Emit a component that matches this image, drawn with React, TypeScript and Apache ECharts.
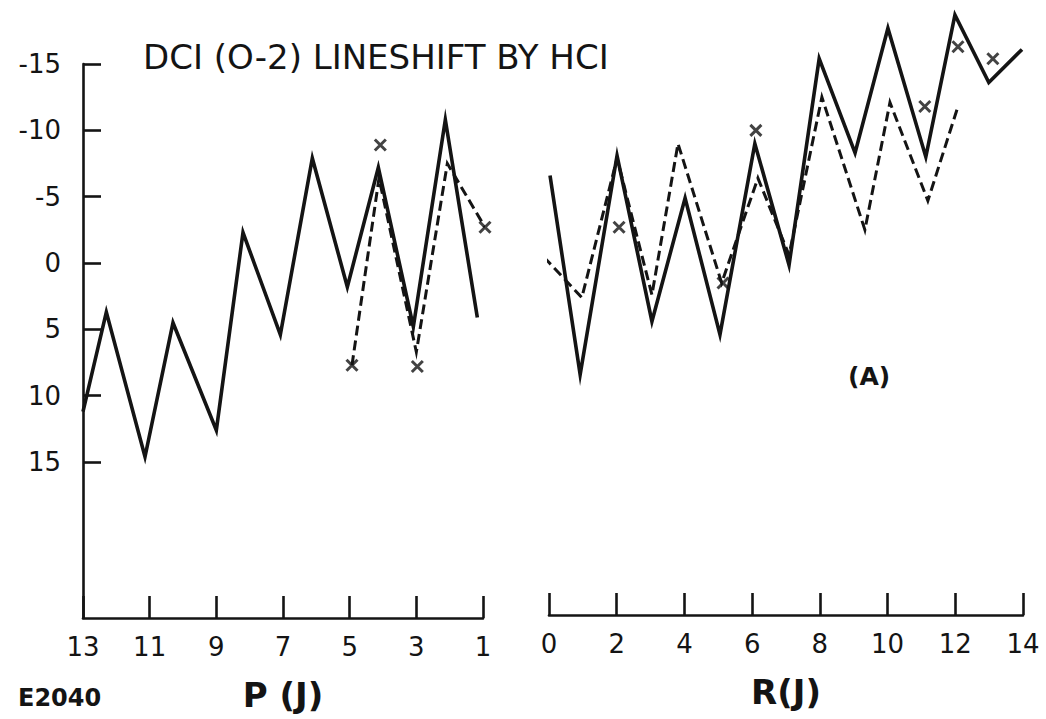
import React, { useEffect, useRef } from "react";
import * as echarts from "echarts";

// Tick labels
const shiftTicks = [-15, -10, -5, 0, 5, 10, 15];
const pTicks = [1, 3, 5, 7, 9, 11, 13];
const rTicks = [0, 2, 4, 6, 8, 10, 12, 14];

// P branch, solid curve (J, shift)
const pSolidJ = [13, 12.3, 11.14, 10.3, 9.0, 8.2, 7.08, 6.12, 5.07, 4.14, 3.09, 2.13, 1.17];
const pSolidShift = [11.2, 3.7, 14.6, 4.5, 12.6, -2.3, 5.4, -7.9, 1.8, -7.2, 4.8, -10.8, 4.1];

// P branch, dashed curve
const pDashedJ = [4.93, 4.12, 3.0, 2.07, 0.94];
const pDashedShift = [7.7, -6.4, 6.7, -7.5, -2.7];

// P branch, x marks
const pMarkJ = [4.93, 4.08, 2.97, 0.94];
const pMarkShift = [7.7, -8.9, 7.8, -2.7];

// R branch, solid curve
const rSolidJ = [0.03, 0.92, 2.01, 3.04, 4.02, 5.05, 6.08, 7.09, 7.98, 9.04, 10.01, 11.13, 11.99, 12.99, 13.97];
const rSolidShift = [-6.6, 8.4, -8.1, 4.4, -4.9, 5.4, -9.0, 0.15, -15.4, -8.3, -17.7, -8.0, -18.7, -13.6, -16.1];

// R branch, dashed curve
const rDashedJ = [-0.15, 0.97, 2.01, 3.04, 3.81, 5.1, 6.17, 7.09, 8.06, 9.33, 10.07, 11.19, 12.08];
const rDashedShift = [-0.45, 2.6, -7.9, 2.4, -9.0, 1.5, -6.4, -0.6, -12.5, -2.5, -12.1, -4.7, -11.8];

// R branch, x marks
const rMarkJ = [2.07, 5.14, 6.11, 11.1, 12.08, 13.11];
const rMarkShift = [-2.7, 1.5, -10.0, -11.8, -16.3, -15.4];

const zip = (a: number[], b: number[]) => a.map((v, i) => [v, b[i]]);

const INK = "#141414";
const FONT = "DejaVu Sans";
const X_MARK = "path://M0,0L10,10M10,0L0,10";

export default function App() {
  const ref = useRef<HTMLDivElement>(null);

  useEffect(() => {
    if (!ref.current) return;
    const chart = echarts.init(ref.current, undefined, { renderer: "svg" });

    const solid = { color: INK, width: 3.6, join: "miter", miterLimit: 20 };
    const dashed = { color: INK, width: 3, type: [10, 5], join: "miter", miterLimit: 20 };

    const xAxisCommon = {
      type: "value",
      axisLine: { show: true, onZero: false, lineStyle: { color: INK, width: 2.6 } },
      axisTick: { show: true, inside: true, length: 22, lineStyle: { color: INK, width: 2.6 } },
      axisLabel: { color: INK, fontSize: 26, fontFamily: FONT, margin: 16 },
      splitLine: { show: false },
      nameLocation: "middle",
      nameTextStyle: { color: INK, fontSize: 34, fontWeight: "bold", fontFamily: FONT },
    };

    const markStyle = { color: "rgba(0,0,0,0)", borderColor: INK, borderWidth: 3 };

    chart.setOption({
      animation: false,
      backgroundColor: "#ffffff",
      grid: [
        { left: 83, top: 64, width: 400, height: 554 },
        { left: 549, top: 64, width: 474, height: 554 },
      ],
      xAxis: [
        {
          ...xAxisCommon,
          gridIndex: 0,
          min: 1,
          max: 13,
          inverse: true,
          axisTick: { ...xAxisCommon.axisTick, customValues: pTicks },
          axisLabel: { ...xAxisCommon.axisLabel, customValues: pTicks },
          name: "P (J)",
          nameGap: 60,
        },
        {
          ...xAxisCommon,
          gridIndex: 1,
          min: 0,
          max: 14,
          offset: -3,
          axisTick: { ...xAxisCommon.axisTick, customValues: rTicks },
          axisLabel: { ...xAxisCommon.axisLabel, customValues: rTicks },
          name: "R(J)",
          nameGap: 60,
        },
      ],
      yAxis: [
        {
          type: "value",
          gridIndex: 0,
          inverse: true,
          min: -15,
          max: 26.75,
          axisLine: { show: true, onZero: false, lineStyle: { color: INK, width: 2.6 } },
          axisTick: {
            show: true,
            inside: true,
            length: 18,
            lineStyle: { color: INK, width: 2.6 },
            customValues: shiftTicks,
          },
          axisLabel: {
            customValues: shiftTicks,
            color: INK,
            fontSize: 26,
            fontFamily: FONT,
            margin: 22,
            formatter: (v: number) => String(v),
          },
          splitLine: { show: false },
        },
        {
          type: "value",
          gridIndex: 1,
          inverse: true,
          min: -15,
          max: 26.75,
          show: false,
          splitLine: { show: false },
        },
      ],
      graphic: [
        {
          type: "text",
          left: 143,
          top: 40,
          style: {
            text: "DCI (O-2) LINESHIFT BY HCI",
            fill: INK,
            font: `34px "${FONT}"`,
          },
        },
        {
          type: "text",
          left: 18,
          top: 686,
          style: { text: "E2040", fill: INK, font: `bold 24px "${FONT}"` },
        },
        {
          type: "text",
          left: 848,
          top: 364,
          style: { text: "(A)", fill: INK, font: `bold 25px "${FONT}"` },
        },
      ],
      series: [
        {
          type: "line",
          xAxisIndex: 0,
          yAxisIndex: 0,
          data: zip(pSolidJ, pSolidShift),
          showSymbol: false,
          clip: false,
          lineStyle: solid,
        },
        {
          type: "line",
          xAxisIndex: 0,
          yAxisIndex: 0,
          data: zip(pDashedJ, pDashedShift),
          showSymbol: false,
          clip: false,
          lineStyle: dashed,
        },
        {
          type: "scatter",
          xAxisIndex: 0,
          yAxisIndex: 0,
          data: zip(pMarkJ, pMarkShift),
          symbol: X_MARK,
          symbolSize: 11,
          clip: false,
          itemStyle: markStyle,
        },
        {
          type: "line",
          xAxisIndex: 1,
          yAxisIndex: 1,
          data: zip(rSolidJ, rSolidShift),
          showSymbol: false,
          clip: false,
          lineStyle: solid,
        },
        {
          type: "line",
          xAxisIndex: 1,
          yAxisIndex: 1,
          data: zip(rDashedJ, rDashedShift),
          showSymbol: false,
          clip: false,
          lineStyle: dashed,
        },
        {
          type: "scatter",
          xAxisIndex: 1,
          yAxisIndex: 1,
          data: zip(rMarkJ, rMarkShift),
          symbol: X_MARK,
          symbolSize: 11,
          clip: false,
          itemStyle: markStyle,
        },
      ],
    });

    return () => chart.dispose();
  }, []);

  return (
    <div
      ref={ref}
      style={{ position: "fixed", left: 0, top: 0, width: 1046, height: 719, background: "#fff" }}
    />
  );
}
